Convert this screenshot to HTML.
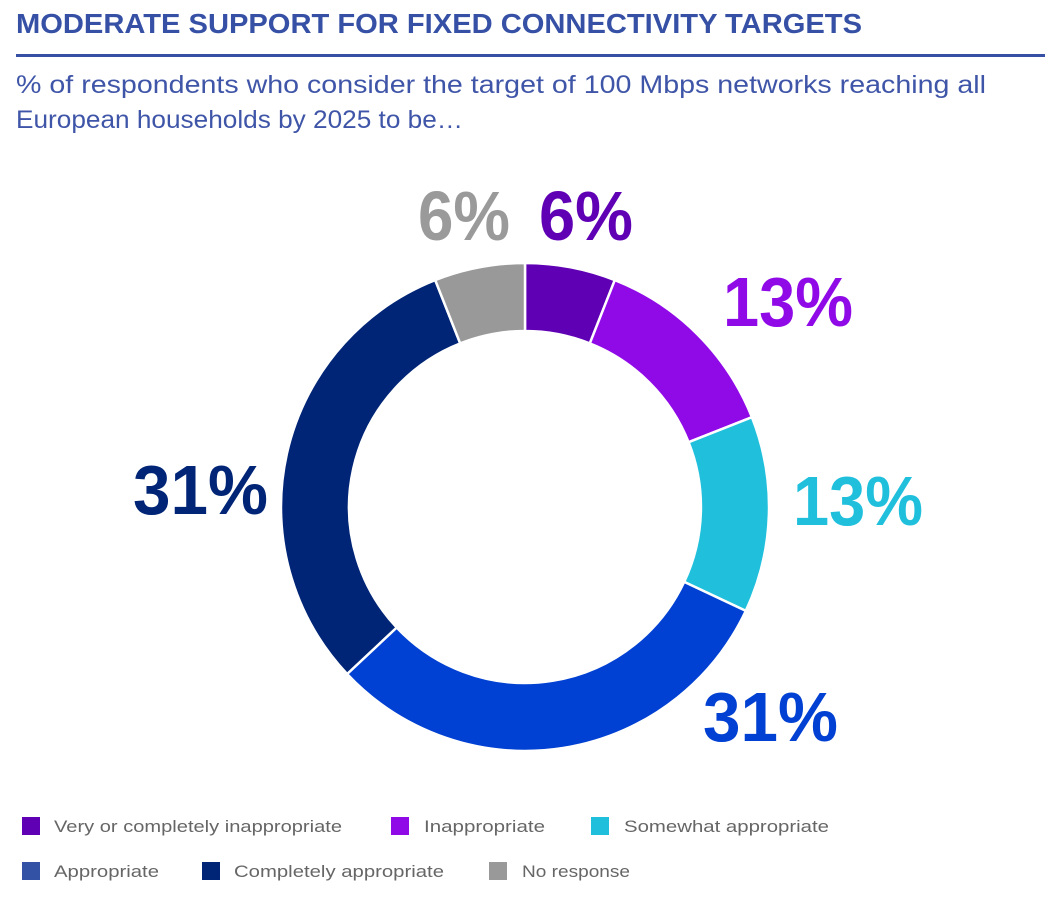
<!DOCTYPE html>
<html><head><meta charset="utf-8"><style>
html,body{margin:0;padding:0;background:#fff;}
svg{display:block;}
</style></head><body>
<svg width="1061" height="906" viewBox="0 0 1061 906" xmlns="http://www.w3.org/2000/svg" font-family="Liberation Sans, sans-serif">
<text x="16" y="33" font-size="28" font-weight="bold" fill="#3550a5" textLength="846" lengthAdjust="spacingAndGlyphs">MODERATE SUPPORT FOR FIXED CONNECTIVITY TARGETS</text>
<rect x="16" y="54" width="1029" height="3" fill="#3550a5"/>
<text x="16" y="93" font-size="25" fill="#3f55a8" textLength="970" lengthAdjust="spacingAndGlyphs">% of respondents who consider the target of 100 Mbps networks reaching all</text>
<text x="16" y="128" font-size="25" fill="#3f55a8" textLength="447" lengthAdjust="spacingAndGlyphs">European households by 2025 to be…</text>

<g stroke="#fff" stroke-width="2.5">
<path d="M525,263 A244,244 0 0 1 614.8,280.1 L589.8,343.4 A176,176 0 0 0 525,331 Z" fill="#6000b5"/>
<path d="M614.8,280.1 A244,244 0 0 1 751.9,417.2 L688.6,442.2 A176,176 0 0 0 589.8,343.4 Z" fill="#900ae8"/>
<path d="M751.9,417.2 A244,244 0 0 1 745.8,610.9 L684.2,581.9 A176,176 0 0 0 688.6,442.2 Z" fill="#20c0dd"/>
<path d="M745.8,610.9 A244,244 0 0 1 347.1,674.0 L396.7,627.5 A176,176 0 0 0 684.2,581.9 Z" fill="#0040d2"/>
<path d="M347.1,674.0 A244,244 0 0 1 435.2,280.1 L460.2,343.4 A176,176 0 0 0 396.7,627.5 Z" fill="#002576"/>
<path d="M435.2,280.1 A244,244 0 0 1 525,263 L525,331 A176,176 0 0 0 460.2,343.4 Z" fill="#999999"/>
</g>

<g font-size="70" font-weight="bold">
<text x="418" y="240" fill="#9a9a9a" textLength="92" lengthAdjust="spacingAndGlyphs">6%</text>
<text x="539" y="240" fill="#6000b5" textLength="94" lengthAdjust="spacingAndGlyphs">6%</text>
<text x="723" y="326" fill="#900ae8" textLength="130" lengthAdjust="spacingAndGlyphs">13%</text>
<text x="793" y="525" fill="#20c0dd" textLength="130" lengthAdjust="spacingAndGlyphs">13%</text>
<text x="703" y="741" fill="#0040d2" textLength="135" lengthAdjust="spacingAndGlyphs">31%</text>
<text x="133" y="514" fill="#002576" textLength="135" lengthAdjust="spacingAndGlyphs">31%</text>
</g>

<g font-size="17" fill="#666">
<rect x="22" y="817" width="18" height="18" fill="#6000b5"/>
<text x="54" y="832" textLength="288" lengthAdjust="spacingAndGlyphs">Very or completely inappropriate</text>
<rect x="391" y="817" width="18" height="18" fill="#900ae8"/>
<text x="424" y="832" textLength="121" lengthAdjust="spacingAndGlyphs">Inappropriate</text>
<rect x="591" y="817" width="18" height="18" fill="#20c0dd"/>
<text x="624" y="832" textLength="205" lengthAdjust="spacingAndGlyphs">Somewhat appropriate</text>
<rect x="22" y="862" width="18" height="18" fill="#3352a5"/>
<text x="54" y="877" textLength="105" lengthAdjust="spacingAndGlyphs">Appropriate</text>
<rect x="202" y="862" width="18" height="18" fill="#002576"/>
<text x="234" y="877" textLength="210" lengthAdjust="spacingAndGlyphs">Completely appropriate</text>
<rect x="489" y="862" width="18" height="18" fill="#999"/>
<text x="522" y="877" textLength="108" lengthAdjust="spacingAndGlyphs">No response</text>
</g>
</svg>
</body></html>
